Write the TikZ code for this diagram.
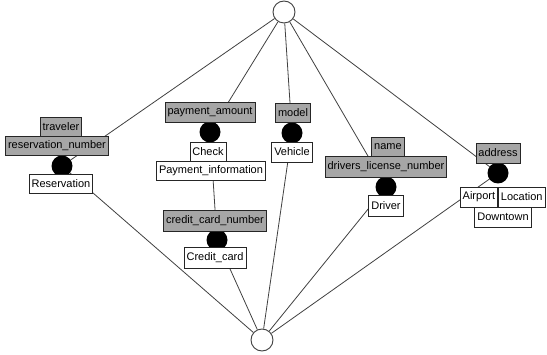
\documentclass[tikz,border=0pt]{standalone}
\usepackage{fontspec}
\setmainfont{Liberation Sans}
\usetikzlibrary{backgrounds}
\begin{document}
\begin{tikzpicture}[x=1pt,y=-1pt,
  box/.style={draw=black!85, line width=0.8pt, font=\fontsize{11}{13}\selectfont, inner xsep=2.5pt, inner ysep=0pt, minimum height=19pt},
  attr/.style={box, fill=black!35},
  ent/.style={box, fill=white},
  dot/.style={circle, fill=black, minimum size=21pt, inner sep=0pt},
  term/.style={circle, draw=black!75, fill=white, minimum size=22pt, inner sep=0pt, line width=0.9pt},
  link/.style={draw=black!75, line width=0.8pt}]
\useasboundingbox (0,0) rectangle (547,355);
% terminals
\node[term] (top) at (284,12) {};
\node[term] (bot) at (262,340) {};
% dots
\node[dot] (d1) at (62,166) {};
\node[dot] (d2) at (210,132) {};
\node[dot] (d3) at (217,240) {};
\node[dot] (d4) at (292,133) {};
\node[dot] (d5) at (386,187) {};
\node[dot] (d6) at (498,173) {};
% connectors
\begin{scope}[on background layer]
\foreach \d in {d1,d2,d4,d5,d6} \draw[link] (top) -- (\d.center);
\foreach \d in {d1,d3,d4,d5,d6} \draw[link] (bot) -- (\d.center);
\draw[link] (d2.center) -- (d3.center);
\end{scope}
% reservation
\node[attr] (traveler) at (61,127) {traveler};
\node[attr] (resnum) at (57,146) {reservation\_number};
\node[ent] (reservation) at (61,184) {Reservation};
% payment
\node[attr, minimum height=20pt] (payamt) at (210,112) {payment\_amount};
\node[ent] (check) at (208,152) {Check};
\node[ent] (payinfo) at (211,171) {Payment\_information};
\node[attr, minimum height=21pt] (ccnum) at (215,221) {credit\_card\_number};
\node[ent, minimum height=21pt] (cc) at (215,258) {Credit\_card};
% vehicle
\node[attr] (model) at (293,113) {model};
\node[ent, minimum height=20pt] (vehicle) at (292,152) {Vehicle};
% driver
\node[attr] (name) at (388,147) {name};
\node[attr, minimum height=21pt] (dln) at (386,167) {drivers\_license\_number};
\node[ent, minimum height=21pt] (driver) at (386,206) {Driver};
% location
\node[attr, minimum height=20pt] (address) at (498,153) {address};
\node[ent, minimum height=20pt, anchor=east] (airport) at (498,197) {Airport};
\node[ent, minimum height=20pt, anchor=west] (location) at (498,197) {Location};
\node[ent, minimum height=20pt] (downtown) at (503,217) {Downtown};
\end{tikzpicture}
\end{document}
